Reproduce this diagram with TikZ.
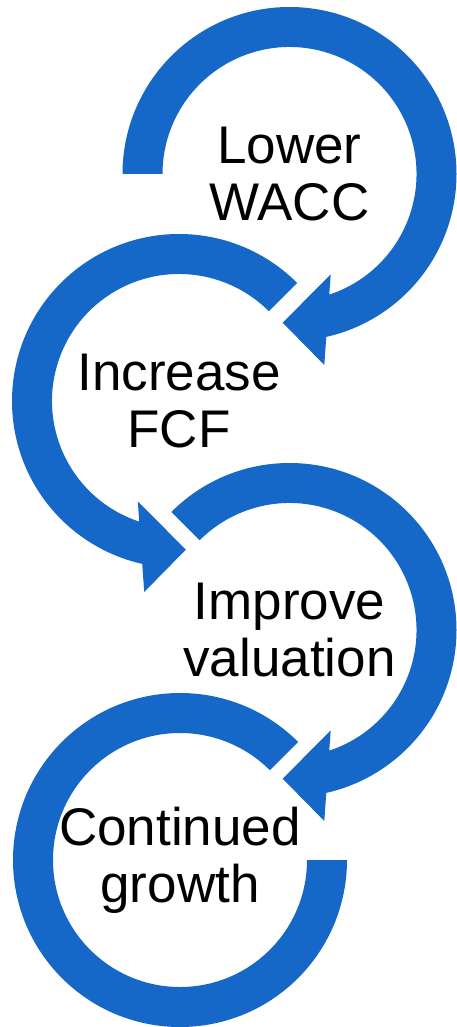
\documentclass[tikz,border=0pt]{standalone}
\usepackage{fontspec}
\setmainfont{Liberation Sans}
\usetikzlibrary{calc}
\definecolor{arrowblue}{RGB}{21,103,200}
\begin{document}
\begin{tikzpicture}[x=1pt,y=1pt,
  ringarrow/.style={fill=arrowblue},
  cyctext/.style={font=\fontsize{53}{57}\selectfont, align=center, text=black, inner sep=0pt}]
\useasboundingbox (0,0) rectangle (457,-1027);
\coordinate (c1) at (289.5,-174);
\coordinate (c2) at (179,-401);
\coordinate (c3) at (289.5,-630);
\coordinate (c4) at (180,-860);
% circle 1: clockwise from the left, arrowhead at the bottom
\fill[ringarrow] ($(c1)+(180:167)$) arc[start angle=180,end angle=-77.28,radius=167]
  -- ($(c1)+(34.8,-191)$) -- ($(c1)+(-6.8,-148.7)$) -- ($(c1)+(41.2,-100.3)$)
  -- ($(c1)+(-71.77:127)$) arc[start angle=-71.77,end angle=180,radius=127] -- cycle;
% circle 2: counterclockwise from upper right, arrowhead at the bottom
\fill[ringarrow] ($(c2)+(45:167)$) arc[start angle=45,end angle=257.28,radius=167]
  -- ($(c2)+(-34.8,-191)$) -- ($(c2)+(6.8,-148.7)$) -- ($(c2)+(-41.2,-100.3)$)
  -- ($(c2)+(251.77:127)$) arc[start angle=251.77,end angle=45,radius=127] -- cycle;
% circle 3: clockwise from upper left, arrowhead at the bottom
\fill[ringarrow] ($(c3)+(135:167)$) arc[start angle=135,end angle=-77.28,radius=167]
  -- ($(c3)+(34.8,-191)$) -- ($(c3)+(-6.8,-148.7)$) -- ($(c3)+(41.2,-100.3)$)
  -- ($(c3)+(-71.77:127)$) arc[start angle=-71.77,end angle=135,radius=127] -- cycle;
% circle 4: open ring, no arrowhead
\fill[ringarrow] ($(c4)+(45:167)$) arc[start angle=45,end angle=360,radius=167]
  -- ($(c4)+(0:127)$) arc[start angle=360,end angle=45,radius=127] -- cycle;
\node[cyctext] (t1) at (c1) {Lower\\WACC};
\node[cyctext] (t2) at (c2) {Increase\\FCF};
\node[cyctext] (t3) at (c3) {Improve\\valuation};
\node[cyctext] (t4) at (c4) {Continued\\growth};
\end{tikzpicture}
\end{document}
